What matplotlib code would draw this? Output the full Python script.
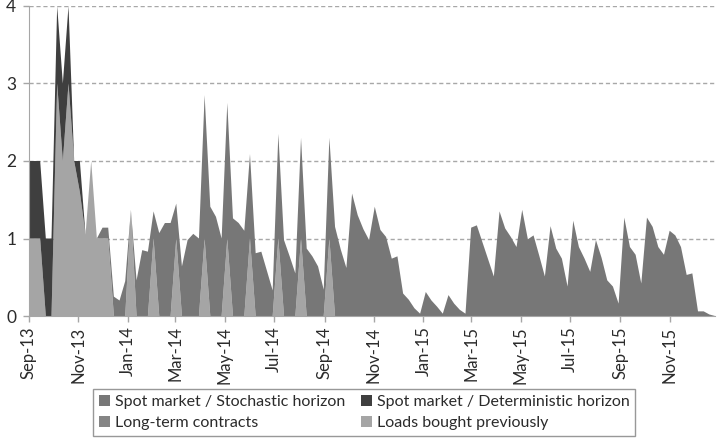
import numpy as np
import pandas as pd
import matplotlib
matplotlib.use("Agg")
import matplotlib.pyplot as plt
import matplotlib.dates as mdates

plt.rcParams['font.family'] = ['Lato', 'DejaVu Sans']

# ---- data (weekly, starting 1 Sep 2013) ----
start_date = "2013-09-01"

loads_prev = [1, 1, 1, 0, 0, 3, 2, 3, 2, 1.6,
              1.05, 2, 1, 1, 1, 0, 0, 0, 1.37, 0,
              0, 0, 1, 0, 0, 0, 1, 0, 0, 0,
              0, 1, 0, 0, 0, 1, 0, 0, 0, 1,
              0, 0, 0, 0, 1, 0, 0, 0, 1, 0,
              0, 0, 0, 1, 0, 0, 0, 0, 0, 0] + [0] * 62

long_term = [0] * 122

spot_det = [1, 1, 1, 1, 1, 1, 1, 1, 0, 0.4] + [0] * 112

spot_stoch = [0, 0, 0, 0, 0, 0, 0, 0, 0, 0,
              0, 0, 0, 0.14, 0.14, 0.25, 0.2, 0.45, 0, 0.46,
              0.85, 0.83, 0.35, 1.07, 1.2, 1.2, 0.45, 0.64, 0.98, 1.06,
              1.0, 1.85, 1.41, 1.28, 1.0, 1.75, 1.26, 1.2, 1.1, 1.09,
              0.81, 0.83, 0.58, 0.33, 1.35, 0.98, 0.77, 0.55, 1.3, 0.87,
              0.77, 0.64, 0.34, 1.3, 1.15, 0.86, 0.62, 1.58, 1.3, 1.12,
              0.98, 1.41, 1.11, 1.02, 0.74, 0.77, 0.29, 0.21, 0.1, 0.03,
              0.31, 0.2, 0.12, 0.03, 0.27, 0.16, 0.08, 0.03, 1.14, 1.17,
              0.95, 0.73, 0.51, 1.35, 1.13, 1.02, 0.89, 1.37, 0.99, 1.04,
              0.78, 0.51, 1.16, 0.87, 0.74, 0.38, 1.23, 0.89, 0.74, 0.57,
              0.98, 0.75, 0.46, 0.38, 0.16, 1.27, 0.89, 0.79, 0.42, 1.27,
              1.15, 0.89, 0.79, 1.1, 1.04, 0.89, 0.53, 0.55, 0.06, 0.06,
              0.02, 0.0]

series_names = ["Spot market / Stochastic horizon",
                "Spot market / Deterministic horizon",
                "Long-term contracts",
                "Loads bought previously"]

tick_labels = ["Sep-13", "Nov-13", "Jan-14", "Mar-14", "May-14", "Jul-14",
               "Sep-14", "Nov-14", "Jan-15", "Mar-15", "May-15", "Jul-15",
               "Sep-15", "Nov-15"]
y_ticks = [0, 1, 2, 3, 4]

# ---- figure ----
n = len(spot_stoch)
dates = pd.date_range(start_date, periods=n, freq="7D")
x = mdates.date2num(dates.to_pydatetime())

fig = plt.figure(figsize=(7.24, 4.40), dpi=100)
ax = fig.add_axes([0.0398, 0.2818, 0.9478, 0.7046])

col_loads = "#a5a5a5"
col_lt = "#858585"
col_det = "#3f3f3f"
col_stoch = "#777777"

polys = ax.stackplot(x, loads_prev, long_term, spot_det, spot_stoch,
                     colors=[col_loads, col_lt, col_det, col_stoch],
                     linewidth=0, zorder=2)

ax.set_ylim(0, 4)
ax.set_xlim(x[0], x[-1])
ax.set_yticks(y_ticks)
ax.set_yticklabels([str(v) for v in y_ticks])

tick_dates = mdates.date2num(pd.to_datetime(tick_labels, format="%b-%y").to_pydatetime())
ax.set_xticks(tick_dates)
ax.set_xticklabels(tick_labels, rotation=90)

for v in y_ticks[1:]:
    ax.axhline(v, color="#a8a8a8", linestyle=(0, (3, 2)), linewidth=1.0, zorder=1)

for s in ["top", "right"]:
    ax.spines[s].set_visible(False)
ax.spines["left"].set_color("#a6a6a6")
ax.spines["bottom"].set_color("#a6a6a6")
ax.spines["left"].set_zorder(3)
ax.tick_params(axis="both", colors="#a6a6a6", labelcolor="#2b2b2b",
               labelsize=12, length=4, width=1)
ax.tick_params(axis="y", labelsize=12.5, pad=5)

handles = [polys[3], polys[1], polys[2], polys[0]]
labels = [series_names[0], series_names[2], series_names[1], series_names[3]]
leg = fig.legend(handles, labels, loc="center", bbox_to_anchor=(0.503, 0.063),
                 ncol=2, frameon=True, fancybox=False, fontsize=11.5,
                 handlelength=0.7, handleheight=0.7, handletextpad=0.3,
                 columnspacing=1.0, borderpad=0.35, labelspacing=0.45)
leg.get_frame().set_edgecolor("#7f7f7f")
leg.get_frame().set_linewidth(1.0)
for t in leg.get_texts():
    t.set_color("#2b2b2b")

fig.savefig("out.png", dpi=100)
